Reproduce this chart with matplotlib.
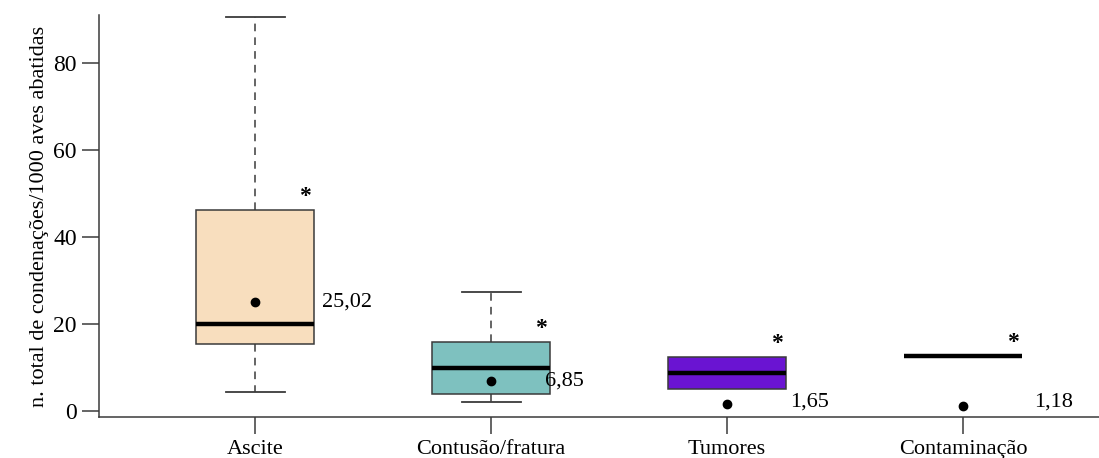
import numpy as np
import matplotlib.pyplot as plt

categories = ["Ascite", "Contusão/fratura", "Tumores", "Contaminação"]
whislo = [4.4, 2.1, 5.1, 12.6]
q1 = [15.4, 3.9, 5.1, 12.6]
med = [20.0, 9.9, 8.7, 12.6]
q3 = [46.2, 15.9, 12.4, 12.6]
whishi = [90.6, 27.4, 12.4, 12.6]
means = [25.02, 6.85, 1.65, 1.18]
mean_labels = ["25,02", "6,85", "1,65", "1,18"]
colors = ["#F8DEBE", "#7EC1BF", "#6A14D2", "white"]

plt.rcParams['font.family'] = ['Liberation Serif', 'DejaVu Serif']

fig = plt.figure(figsize=(10.99, 4.58), dpi=100)
ax = fig.add_axes([0.0901, 0.090, 0.9099, 0.877])

edge = "#3a3a3a"
pos = np.arange(1, len(categories) + 1)
# label offsets to the right of each box
label_dx = [0.284, 0.229, 0.267, 0.30]
label_dy = [0.0, 0.0, 0.4, 1.0]

for i in range(len(categories)):
    stats = [dict(whislo=whislo[i], q1=q1[i], med=med[i], q3=q3[i],
                  whishi=whishi[i], fliers=[])]
    has_box = q3[i] > q1[i]
    has_whisk = whishi[i] > q3[i] or whislo[i] < q1[i]
    bp = ax.bxp(stats, positions=[pos[i]], widths=0.5, capwidths=0.25,
                patch_artist=True, showcaps=has_whisk, showbox=has_box,
                boxprops=dict(facecolor=colors[i], edgecolor=edge, linewidth=1.1),
                whiskerprops=dict(color=edge, linestyle=(0, (5, 4)), linewidth=1.1),
                capprops=dict(color=edge, linewidth=1.3),
                medianprops=dict(color="black", linewidth=3.2, solid_capstyle="butt"))
    if not has_whisk:
        for w in bp['whiskers']:
            w.set_visible(False)
    ax.plot(pos[i], means[i], 'o', color="black", markersize=6, zorder=5)
    ax.text(pos[i] + label_dx[i], means[i] + label_dy[i], mean_labels[i],
            fontsize=16, va="center", ha="left")
    ax.text(pos[i] + 0.21, q3[i] + 3.2, "*", fontsize=17, fontweight="bold",
            va="center", ha="center")

ax.set_xlim(0.339, 4.576)
ax.set_ylim(-1.3, 91.0)
ax.set_xticks(pos)
ax.set_xticklabels(categories, fontsize=16)
ax.set_yticks([0, 20, 40, 60, 80])
ax.tick_params(axis='y', labelsize=17, length=12, width=1.1, color=edge, pad=4)
ax.tick_params(axis='x', length=12, width=1.1, color=edge, pad=5)
ax.spines['top'].set_visible(False)
ax.spines['right'].set_visible(False)
ax.spines['left'].set_bounds(-1.3, 91.0)
for s in ['left', 'bottom']:
    ax.spines[s].set_color(edge)
    ax.spines[s].set_linewidth(1.1)
ax.set_ylabel("n. total de condenações/1000 aves abatidas", fontsize=16, labelpad=3)

fig.savefig("out.png", dpi=100)
